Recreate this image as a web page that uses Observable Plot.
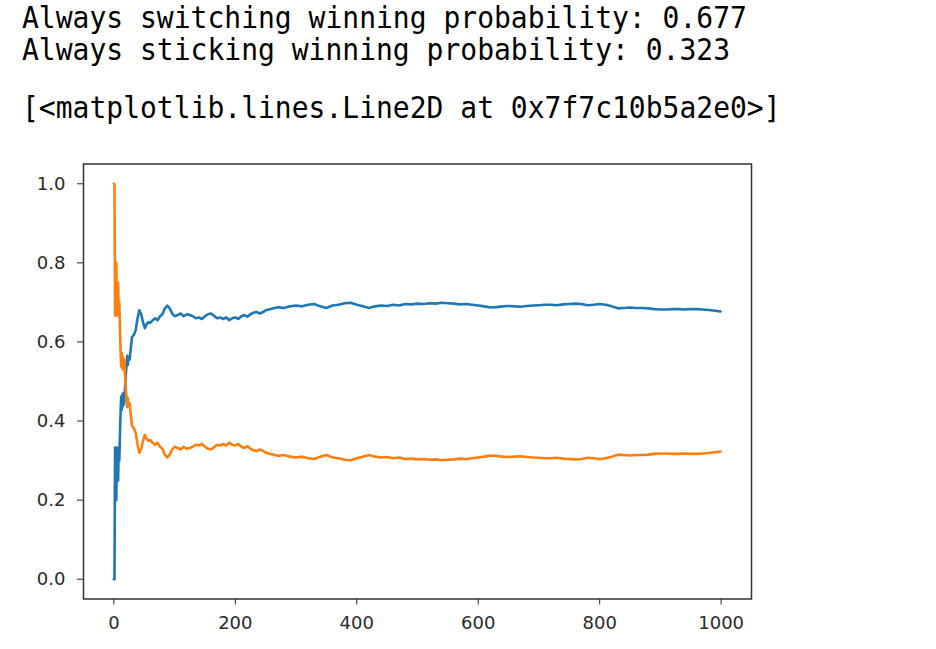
<!DOCTYPE html>
<html>
<head>
<meta charset="utf-8">
<script src="https://cdn.jsdelivr.net/npm/d3@7"></script>
<script src="https://cdn.jsdelivr.net/npm/@observablehq/plot@0.6"></script>
<style>
  html, body { margin: 0; padding: 0; background: #fff; width: 936px; height: 649px; overflow: hidden; }
  .out { position: absolute; left: 22px; font-family: "DejaVu Sans Mono", monospace; font-size: 28px; line-height: 28px; color: #000; white-space: pre; transform: scaleY(1.06); transform-origin: 0 0; }
  #chart { position: absolute; left: 0; top: 140px; }
</style>
</head>
<body>
<div class="out" style="top:4px">Always switching winning probability: 0.677</div>
<div class="out" style="top:36px">Always sticking winning probability: 0.323</div>
<div class="out" style="top:94px">[&lt;matplotlib.lines.Line2D at 0x7f7c10b5a2e0&gt;]</div>
<div id="chart"></div>
<script>
const trials = [0,1,2,3,4,5,6,7,8,9,10,11,12,13,14,15,16,17,18,19,20,21,22,23,24,26,28,30,33,36,39,42,45,48,51,54,57,60,64,68,72,76,80,84,88,92,96,100,105,110,115,120,125,130,135,140,145,150,155,160,165,170,175,180,185,190,195,200,205,210,215,220,225,230,235,240,245,250,260,270,280,290,300,310,320,330,340,350,360,370,380,390,400,410,420,430,440,450,460,470,480,490,500,510,520,530,540,550,560,570,580,590,600,610,620,630,640,650,660,670,680,690,700,710,720,730,740,750,760,770,780,790,800,810,820,830,840,850,860,870,880,890,900,910,920,930,940,950,960,970,980,990,999];
const switching = [0,0,0.333,0.25,0.2,0.333,0.286,0.25,0.333,0.3,0.364,0.417,0.462,0.429,0.467,0.438,0.471,0.444,0.474,0.5,0.524,0.545,0.565,0.542,0.56,0.556,0.586,0.613,0.618,0.63,0.66,0.68,0.67,0.65,0.635,0.645,0.65,0.648,0.655,0.66,0.655,0.665,0.67,0.685,0.692,0.685,0.672,0.665,0.668,0.672,0.665,0.67,0.668,0.665,0.66,0.662,0.658,0.665,0.67,0.672,0.666,0.66,0.662,0.658,0.662,0.655,0.66,0.662,0.658,0.665,0.668,0.664,0.67,0.674,0.676,0.672,0.675,0.68,0.684,0.688,0.686,0.69,0.692,0.69,0.694,0.696,0.69,0.686,0.692,0.694,0.698,0.699,0.694,0.69,0.686,0.69,0.692,0.691,0.694,0.692,0.696,0.695,0.697,0.696,0.698,0.697,0.699,0.698,0.697,0.695,0.696,0.694,0.692,0.69,0.687,0.688,0.69,0.691,0.69,0.689,0.691,0.692,0.693,0.694,0.694,0.693,0.695,0.696,0.697,0.696,0.693,0.694,0.696,0.694,0.69,0.685,0.686,0.687,0.686,0.686,0.685,0.683,0.682,0.682,0.683,0.683,0.682,0.683,0.683,0.682,0.681,0.679,0.677];
const sticking = [1,1,0.667,0.75,0.8,0.667,0.714,0.75,0.667,0.7,0.636,0.583,0.538,0.571,0.533,0.562,0.529,0.556,0.526,0.5,0.476,0.455,0.435,0.458,0.44,0.444,0.414,0.387,0.382,0.37,0.34,0.32,0.33,0.35,0.365,0.355,0.35,0.352,0.345,0.34,0.345,0.335,0.33,0.315,0.308,0.315,0.328,0.335,0.332,0.328,0.335,0.33,0.332,0.335,0.34,0.338,0.342,0.335,0.33,0.328,0.334,0.34,0.338,0.342,0.338,0.345,0.34,0.338,0.342,0.335,0.332,0.336,0.33,0.326,0.324,0.328,0.325,0.32,0.316,0.312,0.314,0.31,0.308,0.31,0.306,0.304,0.31,0.314,0.308,0.306,0.302,0.301,0.306,0.31,0.314,0.31,0.308,0.309,0.306,0.308,0.304,0.305,0.303,0.304,0.302,0.303,0.301,0.302,0.303,0.305,0.304,0.306,0.308,0.31,0.313,0.312,0.31,0.309,0.31,0.311,0.309,0.308,0.307,0.306,0.306,0.307,0.305,0.304,0.303,0.304,0.307,0.306,0.304,0.306,0.31,0.315,0.314,0.313,0.314,0.314,0.315,0.317,0.318,0.318,0.317,0.317,0.318,0.317,0.317,0.318,0.319,0.321,0.323];
const xTicks = [0,200,400,600,800,1000];
const yTicks = [0.0,0.2,0.4,0.6,0.8,1.0];

const rows = trials.map((t, i) => ({t, sw: switching[i], st: sticking[i]}));

const chart = Plot.plot({
  width: 800,
  height: 500,
  marginTop: 23.5,
  marginBottom: 41.5,
  marginLeft: 83,
  marginRight: 49,
  style: { fontFamily: "DejaVu Sans, sans-serif", fontSize: "18px", color: "#2a2a2a", background: "#fff" },
  x: { domain: [-50, 1050], ticks: xTicks, tickFormat: d3.format("d"), label: null, tickSize: 6, tickPadding: 11 },
  y: { domain: [-0.05, 1.05], ticks: yTicks, tickFormat: d3.format(".1f"), label: null, tickSize: 6, tickPadding: 12 },
  marks: [
    Plot.line(rows, {x: "t", y: "sw", stroke: "#1f77b4", strokeWidth: 2.6, strokeLinejoin: "round"}),
    Plot.line(rows, {x: "t", y: "st", stroke: "#ff7f0e", strokeWidth: 2.6, strokeLinejoin: "round"}),
    Plot.frame({stroke: "#333", strokeWidth: 1.5})
  ]
});
document.getElementById("chart").appendChild(chart);
</script>
</body>
</html>
